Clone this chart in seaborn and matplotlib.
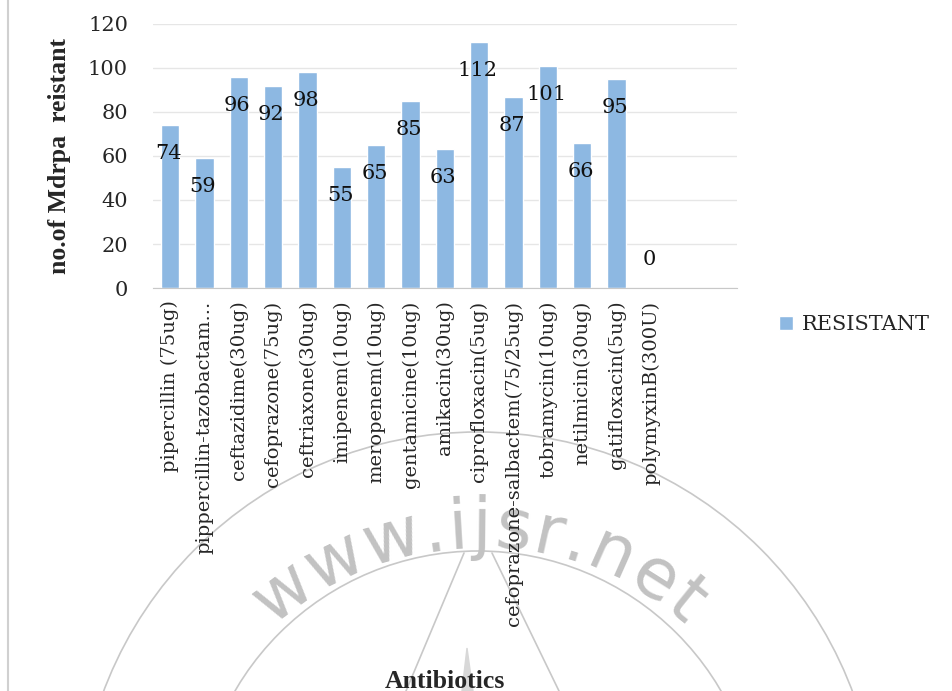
import numpy as np
import pandas as pd
import matplotlib
matplotlib.use("Agg")
import matplotlib.pyplot as plt
import matplotlib.patches as mpatches
import seaborn as sns

# datos del grafico
antibioticos = ["pipercillin (75ug)", "pippercillin-tazobactam...", "ceftazidime(30ug)",
                "cefoprazone(75ug)", "ceftriaxone(30ug)", "imipenem(10ug)",
                "meropenem(10ug)", "gentamicine(10ug)", "amikacin(30ug)",
                "ciprofloxacin(5ug)", "cefoprazone-salbactem(75/25ug)", "tobramycin(10ug)",
                "netilmicin(30ug)", "gatifloxacin(5ug)", "polymyxinB(300U)"]
resistentes = [74, 59, 96, 92, 98, 55, 65, 85, 63, 112, 87, 101, 66, 95, 0]

df = pd.DataFrame({"Antibiotics": antibioticos, "RESISTANT": resistentes})

sns.set_style("white")
plt.rcParams["font.family"] = ["DejaVu Serif"]

fig = plt.figure(figsize=(9.53, 6.91), dpi=100)

# capa de fondo (marca de agua) en coordenadas de pixel
bg = fig.add_axes([0, 0, 1, 1], zorder=-1)
bg.set_xlim(0, 953)
bg.set_ylim(691, 0)
bg.axis("off")
wm = "#C8C8C8"
for rad in [400, 281]:
    bg.add_patch(mpatches.Circle((478, 832), rad, fill=False, ec=wm, lw=1.2))
bg.plot([464, 406], [553, 691], color=wm, lw=1.2)
bg.plot([492, 559], [553, 691], color=wm, lw=1.2)
bg.add_patch(mpatches.Polygon([[467, 648], [462, 691], [473, 691]], color="#D8D8D8"))
bg.plot([8, 8], [0, 691], color="#D0D0D0", lw=1.5)

renderer = fig.canvas.get_renderer()
chars = "www.ijsr.net"
anchos = []
txts = []
for ch in chars:
    t = bg.text(0, 0, ch, fontsize=50, color="#C2C2C2", family="DejaVu Sans",
                ha="center", va="center")
    anchos.append(t.get_window_extent(renderer).width + 4)
    txts.append(t)
total = sum(anchos)
r_txt = 330
pos = -total / 2
for t, w in zip(txts, anchos):
    ang = (pos + w / 2) / r_txt
    t.set_position((478 + r_txt * np.sin(ang), 858 - r_txt * np.cos(ang)))
    t.set_rotation(-np.rad2deg(ang))
    t.set_rotation_mode("anchor")
    pos += w

# grafico principal
ax = fig.add_axes([0.1605, 0.5832, 0.6125, 0.3821])
ax.patch.set_alpha(0)

sns.barplot(data=df, x="Antibiotics", y="RESISTANT", color="#8DB8E2",
            width=0.53, saturation=1, label="RESISTANT", ax=ax, zorder=2)

ax.set_xlim(-0.5, 16.5)
ax.set_ylim(0, 120)
ax.set_yticks(np.arange(0, 121, 20))
ax.yaxis.grid(True, color="#E6E6E6", linewidth=1, zorder=0)
ax.tick_params(axis="y", labelsize=15, length=0, pad=18)
ax.tick_params(axis="x", labelsize=14, length=0, pad=9, rotation=90)
for lab in ax.get_xticklabels():
    lab.set_va("top")

for s in ["top", "right", "left"]:
    ax.spines[s].set_visible(False)
ax.spines["bottom"].set_color("#C8C8C8")

# etiquetas de valor
for i, v in enumerate(resistentes):
    y = v - 13 if v > 0 else 13
    ax.text(i - 0.05, y, str(v), ha="center", va="center", fontsize=15,
            color="#111111", zorder=3)

ax.set_ylabel("no.of Mdrpa  reistant", fontsize=18.5, fontweight="bold", labelpad=12,
              family="Liberation Serif")
ax.set_xlabel("")
fig.text(0.467, 0.014, "Antibiotics", ha="center", va="center", fontsize=18.5,
         fontweight="bold", family="Liberation Serif")

ax.legend(loc="center left", bbox_to_anchor=(1.04, -0.14), frameon=False,
          fontsize=15, handlelength=0.7, handleheight=0.7, handletextpad=0.4)

fig.savefig("out.png", dpi=100)
